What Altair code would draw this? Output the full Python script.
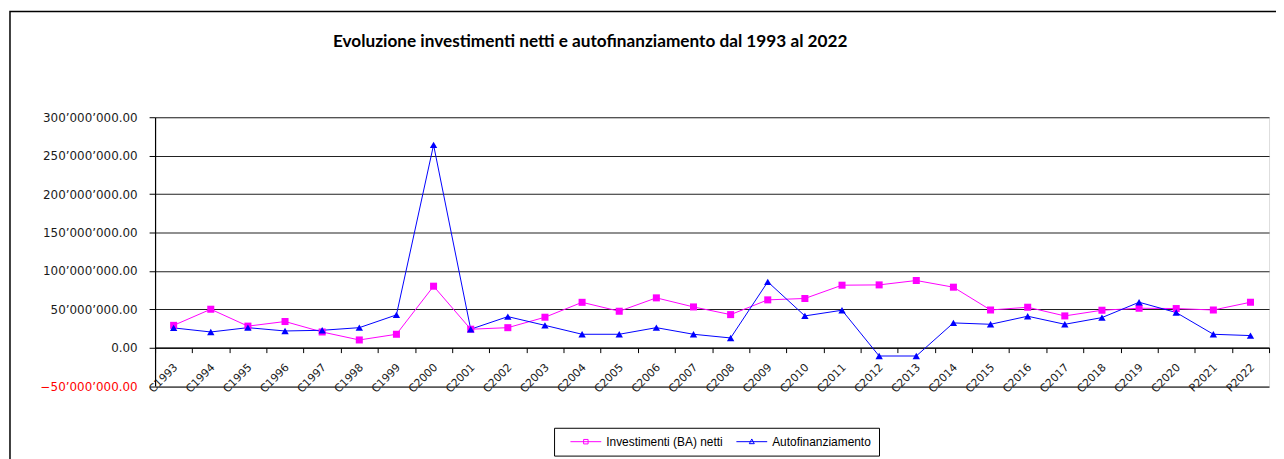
import altair as alt
import pandas as pd

TITLE = "Evoluzione investimenti netti e autofinanziamento dal 1993 al 2022"
SERIES = ["Investimenti (BA) netti", "Autofinanziamento"]
COLORS = ["#FF00FF", "#0000FF"]

years = ["C1993", "C1994", "C1995", "C1996", "C1997", "C1998", "C1999", "C2000",
         "C2001", "C2002", "C2003", "C2004", "C2005", "C2006", "C2007", "C2008",
         "C2009", "C2010", "C2011", "C2012", "C2013", "C2014", "C2015", "C2016",
         "C2017", "C2018", "C2019", "C2020", "P2021", "P2022"]

# values in millions
investimenti_m = [29, 50, 28, 34, 20.4, 10, 17.4, 80, 24, 26, 39.6, 59, 47.4, 64.8,
                  53, 43, 62.2, 64, 81.3, 81.7, 87.4, 78.7, 49, 52.6, 41.3, 48.7,
                  51.3, 50.9, 49, 59.1]
autofin_m = [25.7, 20.4, 26, 21.7, 22.6, 26, 42.6, 264, 24, 40.4, 29, 17.4, 17.4,
             26, 17.4, 12.6, 85.7, 41.3, 48.7, -10.9, -10.9, 32.2, 30.4, 40.9, 30.4,
             39.1, 59.1, 45.7, 17.4, 15.7]

y_ticks = [-50e6, 0, 50e6, 100e6, 150e6, 200e6, 250e6, 300e6]

rows = []
for s, vals in zip(SERIES, [investimenti_m, autofin_m]):
    for yr, v in zip(years, vals):
        rows.append({"year": yr, "series": s, "value": v * 1e6})
df = pd.DataFrame(rows)

W = 1121
H = 270.5

x_enc = alt.X(
    "year:O", sort=years,
    scale=alt.Scale(type="band", paddingInner=0, paddingOuter=0),
    axis=alt.Axis(
        title=None, orient="bottom", offset=-H / 7, tickBand="extent",
        labelOffset=2, labelAngle=-45, labelAlign="right",
        labelBaseline="middle", labelFont="DejaVu Sans", labelFontSize=11,
        labelColor="#1a1a1a", labelPadding=13, labelOverlap=False,
        tickSize=5, tickColor="#000", domainColor="#000", domainWidth=1.2,
        grid=False,
    ),
)
y_enc = alt.Y(
    "value:Q",
    scale=alt.Scale(domain=[-50e6, 300e6], nice=False, zero=False),
    axis=alt.Axis(
        title=None, values=y_ticks,
        labelExpr="replace(format(datum.value, ',.2f'), regexp(',', 'g'), '\u2019')",
        labelColor={"condition": {"test": "datum.value < 0", "value": "#ff0000"},
                    "value": "#1a1a1a"},
        labelFont="DejaVu Sans", labelFontSize=12, labelPadding=12,
        tickSize=6, tickColor="#000", domainColor="#000", domainWidth=1.2,
        grid=True, gridColor="#222", gridWidth=1.2,
    ),
)
color_scale = alt.Scale(domain=SERIES, range=COLORS)

base = alt.Chart(df)

def series_layers(name, color, shape, size):
    b = base.transform_filter(alt.datum.series == name)
    ln = b.mark_line(strokeWidth=1, color=color).encode(x=x_enc, y=y_enc)
    pt = b.mark_point(shape=shape, filled=True, color=color, size=size,
                      opacity=1).encode(x=x_enc, y=y_enc)
    return ln, pt

ln_inv, pt_inv = series_layers(SERIES[0], COLORS[0], "square", 50)
ln_auto, pt_auto = series_layers(SERIES[1], COLORS[1], "triangle-up", 55)

legend_df = pd.DataFrame({"series": SERIES})
legend_layer = alt.Chart(legend_df).mark_point(filled=True, opacity=0).encode(
    x=alt.value(0), y=alt.value(0),
    color=alt.Color("series:N", scale=color_scale, title=None,
                    legend=alt.Legend(
                        orient="none", legendX=401.5, legendY=312.5,
                        direction="horizontal", title=None,
                        padding=8, strokeColor="#000", fillColor="white",
                        symbolSize=100, symbolStrokeWidth=1, symbolOpacity=1,
                        symbolOffset=18, labelOffset=14.5, columnPadding=5,
                        labelFont="Liberation Sans", labelFontSize=12,
                        labelColor="#000",
                    )),
    stroke=alt.Stroke("series:N", scale=color_scale, title=None),
    shape=alt.Shape("series:N", title=None, scale=alt.Scale(
        domain=SERIES,
        range=["M-3.1,0H3.1M-0.45,-0.45H0.45V0.45H-0.45Z",
               "M-3.1,0H3.1M0,-0.55L0.5,0.4H-0.5Z"])),
)

frame = alt.Chart(alt.Data(values=[{}])).mark_rect(
    fillOpacity=0, stroke="#000", strokeWidth=1.5
).encode(
    x=alt.value(-146), x2=alt.value(W + 60),
    y=alt.value(-106.5), y2=alt.value(H + 200),
)

title = alt.Chart(alt.Data(values=[{}])).mark_text(
    text=TITLE, font="Lato", fontSize=17.3, fontWeight="bold", color="#000",
    align="left", baseline="alphabetic",
).encode(x=alt.value(179), y=alt.value(-70.8))

chart = alt.layer(frame, title, ln_inv, ln_auto, pt_inv, pt_auto,
                  legend_layer).properties(
    width=W, height=H,
    autosize=alt.AutoSizeParams(type="none"),
    padding={"left": 148, "top": 108.5, "right": 7, "bottom": 72},
).configure_view(stroke=None).configure(background="white")

chart.save("out.html", embed_options={"renderer": "svg", "actions": False})
